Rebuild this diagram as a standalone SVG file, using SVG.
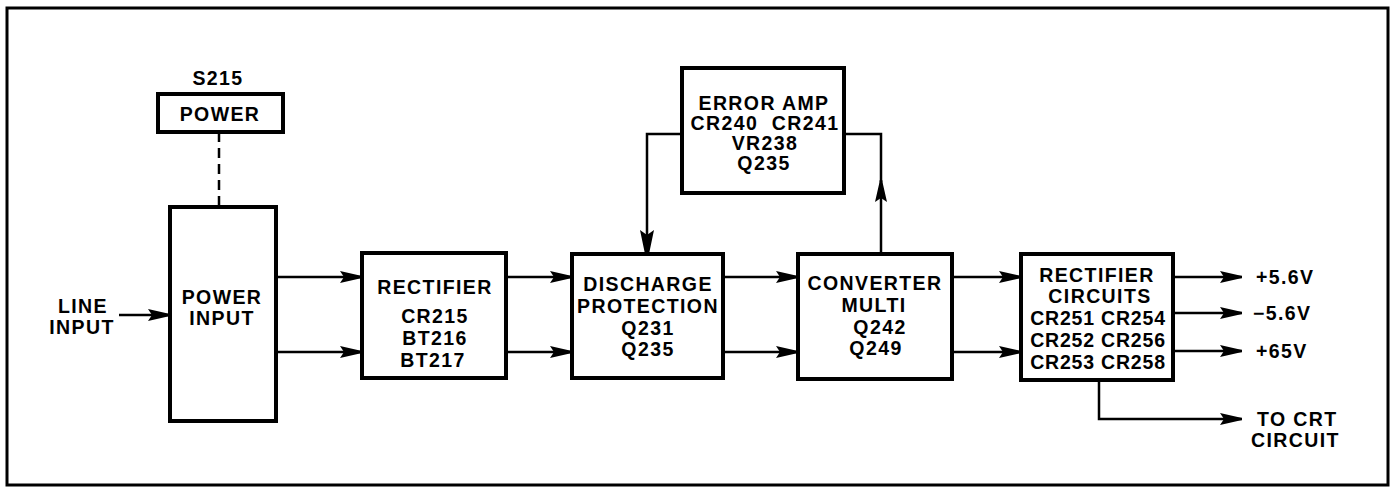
<svg xmlns="http://www.w3.org/2000/svg" width="1398" height="487" viewBox="0 0 1398 487">
<style>
.box{fill:#fff;stroke:#000;stroke-width:4}
.ln{fill:none;stroke:#000;stroke-width:2.5}
text{font-family:"Liberation Sans",Arial,sans-serif;font-weight:bold;font-size:19.5px;letter-spacing:1.4px;fill:#000;text-anchor:middle;dominant-baseline:central}
.l{text-anchor:start}
</style>
<defs>
<marker id="a" markerUnits="userSpaceOnUse" markerWidth="24" markerHeight="14" refX="22" refY="7" orient="auto">
<path d="M0,1 L22,6 L22,8 L0,13 L4,7 z" fill="#000"/>
</marker>
<marker id="b" markerUnits="userSpaceOnUse" markerWidth="26" markerHeight="16" refX="24" refY="8" orient="auto">
<path d="M0,1 L24,6 L24,10 L0,15 L5,8 z" fill="#000"/>
</marker>
</defs>
<rect x="7" y="8" width="1381" height="477" fill="#fff" stroke="#000" stroke-width="3"/>

<g id="connectors">
<line class="ln" x1="219" y1="132" x2="219" y2="207" stroke-dasharray="10,6"/>
<line class="ln" x1="119" y1="315" x2="170" y2="315" marker-end="url(#a)"/>
<line class="ln" x1="276" y1="277" x2="362" y2="277" marker-end="url(#a)"/>
<line class="ln" x1="276" y1="352" x2="362" y2="352" marker-end="url(#a)"/>
<line class="ln" x1="506" y1="277" x2="572" y2="277" marker-end="url(#a)"/>
<line class="ln" x1="506" y1="352" x2="572" y2="352" marker-end="url(#a)"/>
<line class="ln" x1="723" y1="277" x2="798" y2="277" marker-end="url(#a)"/>
<line class="ln" x1="723" y1="352" x2="798" y2="352" marker-end="url(#a)"/>
<line class="ln" x1="952" y1="277" x2="1021" y2="277" marker-end="url(#a)"/>
<line class="ln" x1="952" y1="352" x2="1021" y2="352" marker-end="url(#a)"/>
<polyline class="ln" points="682,134 647,134 647,254" marker-end="url(#b)"/>
<line class="ln" x1="881" y1="254" x2="881" y2="180" marker-end="url(#a)"/>
<polyline class="ln" points="881,182 881,134 844,134"/>
<line class="ln" x1="1173" y1="277" x2="1242" y2="277" marker-end="url(#a)"/>
<line class="ln" x1="1173" y1="313" x2="1242" y2="313" marker-end="url(#a)"/>
<line class="ln" x1="1173" y1="351" x2="1242" y2="351" marker-end="url(#a)"/>
<polyline class="ln" points="1099,380 1099,419 1242,419" marker-end="url(#a)"/>
</g>

<g id="s215">
<text x="218" y="78">S215</text>
<rect class="box" x="158" y="94" width="125" height="38"/>
<text x="220" y="114">POWER</text>
</g>

<g id="line-input">
<text x="83" y="306">LINE</text>
<text x="82" y="327">INPUT</text>
</g>

<g id="power-input">
<rect class="box" x="170" y="207" width="106" height="214"/>
<text x="222" y="297">POWER</text>
<text x="222" y="318">INPUT</text>
</g>

<g id="rectifier">
<rect class="box" x="362" y="253" width="144" height="125"/>
<text x="435" y="287">RECTIFIER</text>
<text x="435" y="316">CR215</text>
<text x="435" y="338">BT216</text>
<text x="433" y="360">BT217</text>
</g>

<g id="discharge">
<rect class="box" x="572" y="254" width="151" height="124"/>
<text x="648" y="284">DISCHARGE</text>
<text x="648" y="306">PROTECTION</text>
<text x="648" y="328">Q231</text>
<text x="648" y="349">Q235</text>
</g>

<g id="error-amp">
<rect class="box" x="682" y="68" width="162" height="125"/>
<text x="764" y="103">ERROR AMP</text>
<text x="765" y="123" xml:space="preserve">CR240  CR241</text>
<text x="765" y="143">VR238</text>
<text x="764" y="163">Q235</text>
</g>

<g id="converter">
<rect class="box" x="798" y="254" width="154" height="125"/>
<text x="875" y="283">CONVERTER</text>
<text x="874" y="305">MULTI</text>
<text x="880" y="327">Q242</text>
<text x="876" y="348">Q249</text>
</g>

<g id="rectifier-circuits">
<rect class="box" x="1021" y="254" width="152" height="126"/>
<text x="1097" y="275">RECTIFIER</text>
<text x="1100" y="296">CIRCUITS</text>
<text x="1098" y="318" style="letter-spacing:0.8px">CR251 CR254</text>
<text x="1098" y="340" style="letter-spacing:0.8px">CR252 CR256</text>
<text x="1098" y="362" style="letter-spacing:0.8px">CR253 CR258</text>
</g>

<g id="outputs">
<text class="l" x="1256" y="277">+5.6V</text>
<text class="l" x="1253" y="313">−5.6V</text>
<text class="l" x="1256" y="351">+65V</text>
<text class="l" x="1257" y="419">TO CRT</text>
<text class="l" x="1251" y="440">CIRCUIT</text>
</g>
</svg>
